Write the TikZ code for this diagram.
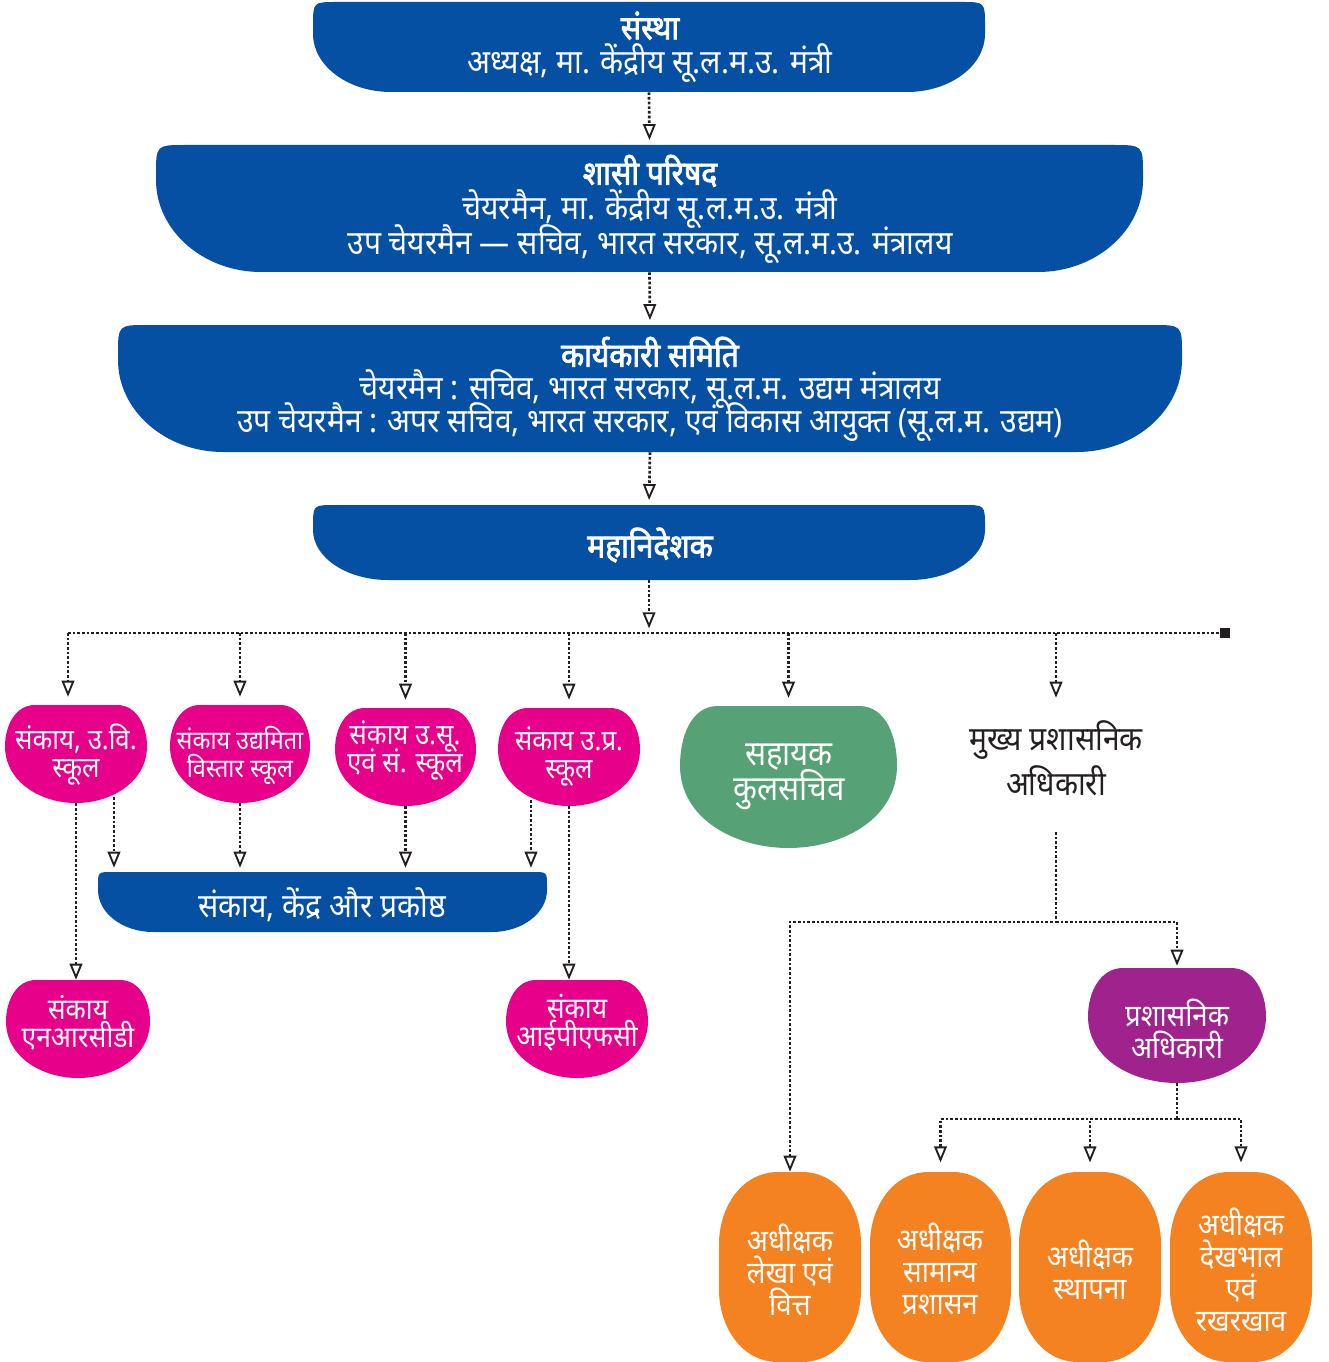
\documentclass[tikz,border=0pt]{standalone}
\usepackage{fontspec}
\newfontfamily\dev[Script=Devanagari, FakeStretch=0.9]{Noto Sans}
\newfontfamily\devb[Script=Devanagari, FakeStretch=0.9, FakeBold=2.5]{Noto Sans}
\usetikzlibrary{arrows.meta,calc,fit}
\definecolor{cblue}{RGB}{6,80,164}
\definecolor{cpink}{RGB}{230,0,138}
\definecolor{cgreen}{RGB}{86,162,118}
\definecolor{cpurple}{RGB}{160,34,141}
\definecolor{corange}{RGB}{245,130,32}
\definecolor{cink}{RGB}{35,31,32}
% name x1 y1 x2 y2 bx by rt color
\newcommand\banner[9]{%
  \node[inner sep=0pt, fit={(#2,#3) (#4,#5)}] (#1) {};
  \fill[#9] ({#2+#8},#3) -- ({#4-#8},#3) .. controls (#4,#3) .. (#4,{#3+#8}) -- (#4,{#5-#7})
    .. controls (#4,{#5-0.45*#7}) and ({#4-0.45*#6},#5) .. ({#4-#6},#5) -- ({#2+#6},#5)
    .. controls ({#2+0.45*#6},#5) and (#2,{#5-0.45*#7}) .. (#2,{#5-#7}) -- (#2,{#3+#8})
    .. controls (#2,#3) .. ({#2+#8},#3) -- cycle;
}
% name x1 y1 x2 y2 rt color
\newcommand\bowl[7]{%
  \node[inner sep=0pt, fit={(#2,#3) (#4,#5)}] (#1) {};
  \pgfmathsetmacro\bwA{#2+#6}\pgfmathsetmacro\bwB{#4-#6}%
  \pgfmathsetmacro\bwM{0.5*(#2+#4)}\pgfmathsetmacro\bwY{#3+0.42*(#5-#3)}%
  \fill[#7] (\bwA,#3) -- (\bwB,#3) to[out=0,in=90] (#4,\bwY)
    to[out=-90,in=0] (\bwM,#5) to[out=180,in=-90] (#2,\bwY)
    to[out=90,in=180] (\bwA,#3) -- cycle;
}
% name x1 y1 x2 y2 color
\newcommand\capsule[6]{%
  \node[inner sep=0pt, fit={(#2,#3) (#4,#5)}] (#1) {};
  \pgfmathsetmacro\cpA{0.5*(#2+#4)-12}\pgfmathsetmacro\cpB{0.5*(#2+#4)+12}%
  \pgfmathsetmacro\cpT{#3+72}\pgfmathsetmacro\cpU{#5-72}%
  \fill[#6] (\cpA,#3) -- (\cpB,#3) to[out=0,in=90] (#4,\cpT)
    -- (#4,\cpU) to[out=-90,in=0] (\cpB,#5) -- (\cpA,#5)
    to[out=180,in=-90] (#2,\cpU) -- (#2,\cpT) to[out=90,in=180] (\cpA,#3) -- cycle;
}
\begin{document}
\begin{tikzpicture}[x=0.75pt,y=-0.75pt,
  conn/.style={cink, line width=2pt, dash pattern=on 2pt off 1.5pt},
  arr/.style={conn, -{Triangle[fill=white, length=12pt, width=9.5pt, line width=1.4pt]}},
  lbl/.style={text=white, align=center, inner sep=0pt, font=\dev\fontsize{25}{25.5}\selectfont,
    execute at begin node={\lineskiplimit=-100pt\lineskip=0pt}},
  small/.style={lbl, font=\dev\fontsize{21.5}{21}\selectfont},
  mid/.style={lbl, font=\dev\fontsize{23}{24}\selectfont},
]
\useasboundingbox (0,0) rectangle (1328,1362);

% main banners
\banner{s1}{313}{2}{985}{92}{78}{58}{24}{cblue}
\banner{s2}{156}{145}{1143}{272}{105}{92}{30}{cblue}
\banner{s3}{118}{325}{1182}{452}{105}{92}{30}{cblue}
\banner{s4}{313}{505}{985}{580}{75}{50}{22}{cblue}
\banner{bar}{98}{872}{547}{932}{55}{42}{14}{cblue}

\node[lbl] (t1) at (650,47) {{\devb संस्था}\\अध्यक्ष, मा. केंद्रीय सू.ल.म.उ. मंत्री};
\node[lbl, font=\dev\fontsize{25}{26}\selectfont] (t2) at (650,209) {{\devb शासी परिषद}\\चेयरमैन, मा. केंद्रीय सू.ल.म.उ. मंत्री\\उप चेयरमैन — सचिव, भारत सरकार, सू.ल.म.उ. मंत्रालय};
\node[lbl, font=\dev\fontsize{25}{24.5}\selectfont] (t3) at (650,389) {{\devb कार्यकारी समिति}\\चेयरमैन : सचिव, भारत सरकार, सू.ल.म. उद्यम मंत्रालय\\उप चेयरमैन : अपर सचिव, भारत सरकार, एवं विकास आयुक्त (सू.ल.म. उद्यम)};
\node[lbl] (t4) at (650,545) {\devb महानिदेशक};
\node[lbl] (tbar) at (322,905) {संकाय, केंद्र और प्रकोष्ठ};

% schools
\bowl{p1}{5}{705}{147}{803}{30}{cpink}
\bowl{p2}{170}{705}{310}{803}{30}{cpink}
\bowl{p3}{335}{708}{476}{806}{30}{cpink}
\bowl{p4}{498}{708}{640}{806}{30}{cpink}
\bowl{gr}{680}{706}{897}{848}{38}{cgreen}
\bowl{nrcd}{6}{980}{150}{1078}{30}{cpink}
\bowl{ipfc}{506}{980}{648}{1078}{30}{cpink}
\bowl{pu}{1088}{968}{1266}{1083}{35}{cpurple}

\node[small] (tp1) at (76,755) {संकाय, उ.वि.\\स्कूल};
\node[small, font=\dev\fontsize{19.5}{21}\selectfont] (tp2) at (240,755) {संकाय उद्यमिता\\विस्तार स्कूल};
\node[small] (tp3) at (405,751) {संकाय उ.सू.\\एवं सं. स्कूल};
\node[small] (tp4) at (569,757) {संकाय उ.प्र.\\स्कूल};
\node[lbl, font=\dev\fontsize{26}{26}\selectfont] (tgr) at (789,777) {सहायक\\कुलसचिव};
\node[small, font=\dev\fontsize{22}{21}\selectfont] (tnr) at (78,1023) {संकाय\\एनआरसीडी};
\node[small, font=\dev\fontsize{22}{21}\selectfont] (tip) at (577,1023) {संकाय\\आईपीएफसी};
\node[mid] (tpu) at (1177,1029) {प्रशासनिक\\अधिकारी};
\node[lbl, text=cink, font=\dev\fontsize{25}{34}\selectfont] (cao) at (1056,758) {मुख्य प्रशासनिक\\अधिकारी};

% superintendents
\capsule{o1}{719}{1172}{861}{1362}{corange}
\capsule{o2}{870}{1172}{1011}{1362}{corange}
\capsule{o3}{1019}{1172}{1161}{1362}{corange}
\capsule{o4}{1170}{1172}{1312}{1362}{corange}
\node[mid] (to1) at (790,1270) {अधीक्षक\\लेखा एवं\\वित्त};
\node[mid] (to2) at (940,1269) {अधीक्षक\\सामान्य\\प्रशासन};
\node[mid] (to3) at (1090,1270) {अधीक्षक\\स्थापना};
\node[mid] (to4) at (1241,1270) {अधीक्षक\\देखभाल\\एवं\\रखरखाव};

% connectors, top chain
\draw[arr, shorten >=3.5pt] (s1.south) -- (s2.north);
\draw[arr, shorten >=3.5pt] (s2.south) -- (s3.north);
\draw[arr, shorten >=3.5pt] (s3.south) -- (s4.north);

% bus
\coordinate (busL) at (68,633);
\node[fill=cink, minimum size=7.5pt, inner sep=0pt] (busend) at (1225,633) {};
\draw[conn] (busL) -- (busend.west);
\draw[arr, shorten >=3.5pt] (s4.south) -- (s4.south |- busL);
\draw[arr, shorten >=6pt] (busL) -- (busL |- p1.north);
\draw[arr, shorten >=6pt] (p2.north |- busL) -- (p2.north);
\draw[arr, shorten >=6pt] (p3.north |- busL) -- (p3.north);
\draw[arr, shorten >=6pt] (p4.north |- busL) -- (p4.north);
\draw[arr, shorten >=6pt] (gr.north |- busL) -- (gr.north);
\draw[arr, shorten >=6pt] (cao.north |- busL) -- (cao.north |- gr.north);

% schools to bar
\coordinate (a1) at ($(p1.south)+(38,-6)$);
\coordinate (a4) at ($(p4.south)+(-38,-6)$);
\draw[arr, shorten >=3pt] (a1) -- (a1 |- bar.north);
\draw[arr, shorten >=3pt] (p2.south) -- (p2.south |- bar.north);
\draw[arr, shorten >=3pt] (p3.south) -- (p3.south |- bar.north);
\draw[arr, shorten >=3pt] (a4) -- (a4 |- bar.north);
\draw[arr] (p1.south) -- (p1.south |- nrcd.north);
\draw[arr] (p4.south) -- (p4.south |- ipfc.north);

% administration
\coordinate (caoB) at (1056,832);
\coordinate (h1) at (1056,922);
\draw[arr] (caoB) -- (h1) -| (o1.north);
\draw[arr, shorten >=1.5pt] (h1) -| (pu.north);
\coordinate (h2) at (1177,1119);
\draw[conn] (pu.south) -- (h2);
\draw[arr, shorten >=7pt] (h2) -| (o2.north);
\draw[arr, shorten >=7pt] (h2) -| (o3.north);
\draw[arr, shorten >=7pt] (h2) -| (o4.north);
\end{tikzpicture}
\end{document}
